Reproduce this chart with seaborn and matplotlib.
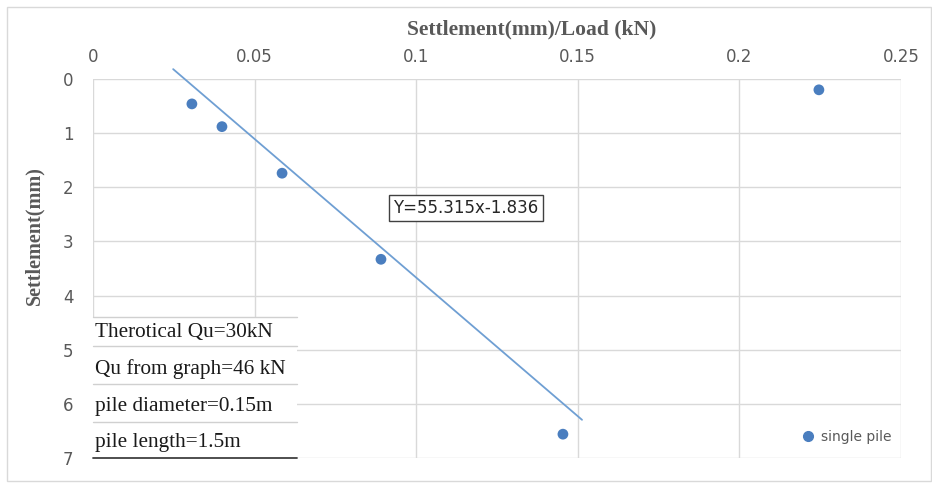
import numpy as np
import pandas as pd
import matplotlib
matplotlib.use("Agg")
import matplotlib.pyplot as plt
import seaborn as sns
from matplotlib.patches import Rectangle
from matplotlib.lines import Line2D

# ---- data ----
ratio = [0.0306, 0.0399, 0.0585, 0.0891, 0.1454, 0.2246]   # Settlement/Load
settlement = [0.46, 0.88, 1.74, 3.33, 6.56, 0.20]         # mm
series_name = "single pile"
trend_x = [0.0248, 0.1513]
trend_slope = 51.2
trend_intercept = -1.452
equation_label = "Y=55.315x-1.836"
x_ticks = [0, 0.05, 0.1, 0.15, 0.2, 0.25]
x_tick_labels = ["0", "0.05", "0.1", "0.15", "0.2", "0.25"]
y_ticks = [0, 1, 2, 3, 4, 5, 6, 7]
info_rows = ["Therotical Qu=30kN", "Qu from graph=46 kN",
             "pile diameter=0.15m", "pile length=1.5m"]

df = pd.DataFrame({"ratio": ratio, "settlement": settlement, "series": series_name})
tx = np.array(trend_x)
trend_df = pd.DataFrame({"x": tx, "y": trend_slope * tx + trend_intercept})

sns.set_theme(style="white")
plt.rcParams["font.family"] = ["DejaVu Sans"]

W, H = 932, 483
fig = plt.figure(figsize=(W / 100, H / 100), dpi=100)
ax = fig.add_axes([93 / W, 1 - 458 / H, (901 - 93) / W, (458 - 79) / H])

blue = "#4a7ebf"
sns.lineplot(data=trend_df, x="x", y="y", ax=ax, color="#6f9fd3", linewidth=1.3,
             zorder=3, legend=False)
for ln in ax.lines:
    ln.set_clip_on(False)
sns.scatterplot(data=df, x="ratio", y="settlement", ax=ax, color=blue, s=60,
                edgecolor="none", zorder=4, legend=False)

ax.set_xlim(0, 0.25)
ax.set_ylim(7, 0)
ax.xaxis.tick_top()
ax.xaxis.set_label_position("top")
ax.set_xticks(x_ticks)
ax.set_xticklabels(x_tick_labels)
ax.set_yticks(y_ticks)
ax.grid(True, color="#d9d9d9", linewidth=1.0)
ax.set_axisbelow(True)
for sp in ax.spines.values():
    sp.set_visible(False)
ax.tick_params(axis="both", length=0, labelsize=12, labelcolor="#595959")
ax.tick_params(axis="y", pad=14)
ax.tick_params(axis="x", pad=9)

ax.set_xlabel("Settlement(mm)/Load (kN)", fontfamily="Liberation Serif",
              fontweight="bold", fontsize=15.5, color="#595959")
ax.xaxis.label.set_va("center")
ax.xaxis.set_label_coords(0.543, 1.13)
ax.set_ylabel("Settlement(mm)", fontfamily="Liberation Serif",
              fontweight="bold", fontsize=14.5, color="#595959")
ax.yaxis.label.set_va("center")
ax.yaxis.set_label_coords(-0.072, 0.586)

# equation label box
ax.text(0.1154, 2.38, equation_label, ha="center", va="center", fontsize=12,
        color="#262626", zorder=6,
        bbox=dict(boxstyle="square,pad=0.25", fc="white", ec="#404040", lw=1.0))

# info table in lower-left (figure pixel coords)
def fx(px):
    return px / W
def fy(py):
    return 1 - py / H

fig.patches.append(Rectangle((fx(93), fy(458)), fx(297) - fx(93), fy(317) - fy(458),
                             transform=fig.transFigure, fc="white", ec="none", zorder=5))
row_lines = [317, 346, 384, 422]
for yy in row_lines:
    fig.lines.append(Line2D([fx(93), fx(297)], [fy(yy), fy(yy)], transform=fig.transFigure,
                            color="#d0d0d0", lw=1.0, zorder=6))
fig.lines.append(Line2D([fx(93), fx(297)], [fy(458), fy(458)], transform=fig.transFigure,
                        color="#404040", lw=1.3, zorder=6))
row_text_y = [333, 369, 406, 442]
for t, yy in zip(info_rows, row_text_y):
    fig.text(fx(95), fy(yy), t, ha="left", va="center", fontsize=15.3,
             fontfamily="Liberation Serif", color="#1a1a1a", zorder=7)

# legend
ax.legend(handles=[Line2D([], [], marker="o", linestyle="none", color=blue,
                          markersize=7, label=series_name)],
          loc="lower right", bbox_to_anchor=(0.998, 0.015), frameon=False,
          handletextpad=-0.1, fontsize=10, labelcolor="#595959", borderaxespad=0.2)

# outer chart frame
fig.patches.append(Rectangle((fx(7), fy(481)), fx(931) - fx(7), fy(7) - fy(481),
                             transform=fig.transFigure, fc="none", ec="#d9d9d9", lw=1.0))

fig.savefig("out.png", dpi=100)
